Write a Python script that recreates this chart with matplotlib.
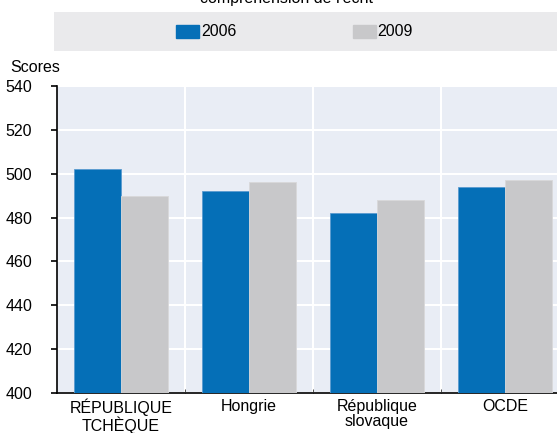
import matplotlib
matplotlib.use("Agg")
import matplotlib.pyplot as plt
from matplotlib import font_manager as fm
import numpy as np

categories = ["RÉPUBLIQUE\nTCHÈQUE", "Hongrie", "République\nslovaque", "OCDE"]
series_names = ["2006", "2009"]
scores_2006 = [502, 492, 482, 494]
scores_2009 = [490, 496, 488, 497]
yticks = [400, 420, 440, 460, 480, 500, 520, 540]

names = {f.name for f in fm.fontManager.ttflist}
fam = "Liberation Sans Narrow" if "Liberation Sans Narrow" in names else "Liberation Sans"
plt.rcParams['font.family'] = [fam, 'DejaVu Sans']

W, H = 557, 433
fig = plt.figure(figsize=(W/100, H/100), dpi=100)

x0, x1 = 57, 569
ytop, ybot = 86, 393
ax = fig.add_axes([x0/W, 1 - ybot/H, (x1 - x0)/W, (ybot - ytop)/H])
ax.set_facecolor("#E9EDF5")

x = np.arange(len(categories))
bw = 0.365
blue = "#056FB7"
grey = "#C8C8CA"
ax.bar(x - bw/2, scores_2006, bw, color=blue, edgecolor="#5A9BD0", linewidth=0.6, zorder=3)
ax.bar(x + bw/2, scores_2009, bw, color=grey, edgecolor="#D8D8DA", linewidth=0.6, zorder=3)

ax.set_ylim(400, 540)
ax.set_xlim(-0.5, len(categories) - 0.5)
ax.set_yticks(yticks)
ax.set_yticklabels([str(t) for t in yticks], fontsize=11.5)
ax.grid(axis='y', color='white', linewidth=1.5, zorder=1)
for s in np.arange(0.5, len(categories) - 0.5, 1):
    ax.axvline(s, color='white', linewidth=1.5, zorder=1)
ax.set_xticks(x)
ax.set_xticklabels(categories, fontsize=11.5, linespacing=1.05)
ax.tick_params(axis='x', length=0, pad=4)
ax.set_xticks(np.arange(0.5, len(categories) - 0.5, 1), minor=True)
ax.tick_params(axis='x', which='minor', length=3, direction='in', color='#333333')
ax.tick_params(axis='y', length=4, width=1.2, direction='out', pad=14, colors='black')
for t in ax.get_yticklabels():
    t.set_horizontalalignment('right')
for sp in ['top', 'right']:
    ax.spines[sp].set_visible(False)
for sp in ['left', 'bottom']:
    ax.spines[sp].set_linewidth(1.2)
    ax.spines[sp].set_color('black')

fig.text(10/W, 1 - 68/H, "Scores", fontsize=11.5, va='center', ha='left')

# legend band
band = fig.add_axes([54/W, 1 - 51/H, (W - 54)/W, 39/H])
band.set_facecolor("#EAEAEC")
band.set_xticks([]); band.set_yticks([])
for sp in band.spines.values():
    sp.set_visible(False)
band.set_xlim(54, W); band.set_ylim(51, 12)
band.add_patch(plt.Rectangle((176, 25), 23, 13, color=blue))
band.text(201, 31.5, series_names[0], fontsize=11.5, va='center', ha='left')
band.add_patch(plt.Rectangle((353, 25), 23, 13, color=grey))
band.text(377, 31.5, series_names[1], fontsize=11.5, va='center', ha='left')

fig.text(287/W, 1 - (-2)/H, "compréhension de l'écrit", fontsize=11.5, va='center', ha='center')

fig.savefig("out.png", dpi=100)
